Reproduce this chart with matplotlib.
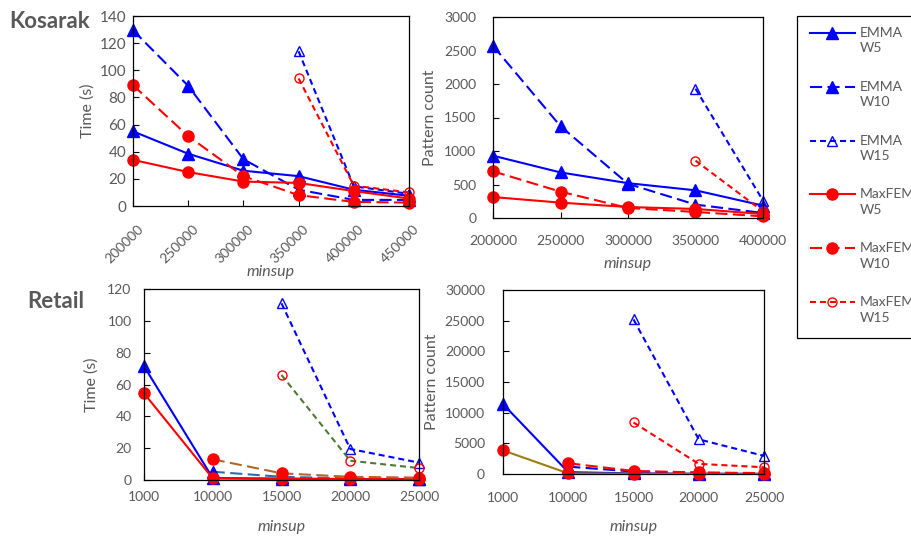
import numpy as np
import matplotlib
matplotlib.use("Agg")
import matplotlib.pyplot as plt
from matplotlib.lines import Line2D
from matplotlib.patches import Rectangle
from matplotlib.transforms import ScaledTranslation

plt.rcParams['font.family'] = ['Lato', 'DejaVu Sans']

nan = np.nan
# ---------------- data ----------------
kos_time_x = ["200000", "250000", "300000", "350000", "400000", "450000"]
kos_time_emma_w5 = [55, 38.5, 26, 22, 12, 7.5]
kos_time_emma_w10 = [129.5, 88.5, 34.5, 12, 4.5, 4.5]
kos_time_emma_w15 = [nan, nan, nan, 114, 14.5, 9]
kos_time_max_w5 = [34, 25, 18, 17, 11, 5.5]
kos_time_max_w10 = [89, 51.5, 22, 8, 3, 2.5]
kos_time_max_w15 = [nan, nan, nan, 94, 15, 10]

kos_cnt_x = ["200000", "250000", "300000", "350000", "400000"]
kos_cnt_emma_w5 = [930, 680, 520, 413, 185]
kos_cnt_emma_w10 = [2570, 1370, 510, 200, 75]
kos_cnt_emma_w15 = [nan, nan, nan, 1930, 260]
kos_cnt_max_w5 = [313, 229, 164, 135, 60]
kos_cnt_max_w10 = [697, 393, 150, 90, 25]
kos_cnt_max_w15 = [nan, nan, nan, 856, 100]

ret_x = ["1000", "10000", "15000", "20000", "25000"]
ret_time_emma_w5 = [71.5, 1.2, 0.8, 0.6, 0.5]
ret_time_emma_w10 = [nan, 5.2, 2.0, 1.0, 0.8]
ret_time_emma_w15 = [nan, nan, 111, 19.5, 10.9]
ret_time_max_w5 = [54.5, 1.0, 0.8, 0.6, 0.5]
ret_time_max_w10 = [nan, 13, 4.2, 2.0, 1.5]
ret_time_max_w15 = [nan, nan, 66, 12.1, 7.5]

ret_cnt_emma_w5 = [11400, 300, 100, 50, 30]
ret_cnt_emma_w10 = [nan, 1200, 400, 200, 100]
ret_cnt_emma_w15 = [nan, nan, 25200, 5650, 2950]
ret_cnt_max_w5 = [3850, 100, 50, 30, 20]
ret_cnt_max_w10 = [nan, 1750, 500, 250, 150]
ret_cnt_max_w15 = [nan, nan, 8400, 1650, 1100]

legend_names = ["EMMA", "EMMA", "EMMA", "MaxFEM", "MaxFEM", "MaxFEM"]
legend_windows = ["W5", "W10", "W15", "W5", "W10", "W15"]

# ---------------- styles ----------------
BLUE = "#0000FF"
RED = "#FF0000"
GRAY = "#595959"
LW = 1.5
LONG = (0, (5.8, 2.6))
SHORT = (0, (2.9, 1.9))

W, H = 912, 538
fig = plt.figure(figsize=(W / 100, H / 100), dpi=100)


def rect(l, t, r, b):
    return [l / W, 1 - b / H, (r - l) / W, (b - t) / H]


def series_styles(colors=None):
    c = {"ew5": BLUE, "ew10": BLUE, "ew15": BLUE, "mw5": RED, "mw10": RED, "mw15": RED}
    if colors:
        c.update(colors)
    return [
        dict(color=c["ew5"], ls="-", marker="^", ms=8, mfc=BLUE, mec=BLUE),
        dict(color=c["ew10"], ls=LONG, marker="^", ms=8, mfc=BLUE, mec=BLUE),
        dict(color=c["ew15"], ls=SHORT, marker="^", ms=6.5, mfc="none", mec=BLUE, mew=1),
        dict(color=c["mw5"], ls="-", marker="o", ms=8, mfc=RED, mec=RED),
        dict(color=c["mw10"], ls=LONG, marker="o", ms=8, mfc=RED, mec=RED),
        dict(color=c["mw15"], ls=SHORT, marker="o", ms=6.5, mfc="none", mec=RED, mew=1),
    ]


def draw(r, xlabels, series, ymax, ystep, ylabel, ylabel_x, xlab_y, rot=False,
         ypad=4, xpad=4, colors=None, ysize=10, xsize=10):
    ax = fig.add_axes(rect(*r))
    x = np.arange(len(xlabels))
    for vals, st in zip(series, series_styles(colors)):
        ax.plot(x, vals, lw=LW, clip_on=False, **st)
    ax.set_xlim(0, len(xlabels) - 1)
    ax.set_ylim(0, ymax)
    ax.set_yticks(np.arange(0, ymax + ystep / 2, ystep))
    ax.set_xticks(x)
    ax.tick_params(axis="both", direction="in", length=4, width=0.8,
                   colors="black")
    ax.tick_params(axis="y", pad=ypad, labelsize=ysize, labelcolor=GRAY)
    if rot:
        ax.set_xticklabels([])
        off = ScaledTranslation(8 / 100, -21 / 100, fig.dpi_scale_trans)
        for i, lab in zip(x, xlabels):
            ax.text(i, 0, lab, transform=ax.get_xaxis_transform() + off,
                    rotation=45, rotation_mode="anchor", ha="right",
                    va="center", fontsize=xsize, color=GRAY)
    else:
        ax.set_xticklabels(xlabels)
        ax.tick_params(axis="x", pad=xpad, labelsize=xsize, labelcolor=GRAY)
    for s in ax.spines.values():
        s.set_linewidth(0.9)
        s.set_color("black")
    l, t, rr, b = r
    fig.text(ylabel_x / W, 1 - ((t + b) / 2) / H, ylabel, rotation=90,
             ha="center", va="center", fontsize=11.5, color=GRAY)
    fig.text(((l + rr) / 2) / W, 1 - xlab_y / H, "minsup", style="italic",
             ha="center", va="center", fontsize=11.5, color=GRAY)
    return ax


draw((133, 16, 409, 206), kos_time_x,
     [kos_time_emma_w5, kos_time_emma_w10, kos_time_emma_w15,
      kos_time_max_w5, kos_time_max_w10, kos_time_max_w15],
     140, 20, "Time (s)", 88, 272, rot=True, ypad=5, ysize=11, xsize=10)

draw((493, 17, 763, 218), kos_cnt_x,
     [kos_cnt_emma_w5, kos_cnt_emma_w10, kos_cnt_emma_w15,
      kos_cnt_max_w5, kos_cnt_max_w10, kos_cnt_max_w15],
     3000, 500, "Pattern count", 430, 264, ypad=12, xpad=12)

draw((144, 289, 419, 480), ret_x,
     [ret_time_emma_w5, ret_time_emma_w10, ret_time_emma_w15,
      ret_time_max_w5, ret_time_max_w10, ret_time_max_w15],
     120, 20, "Time (s)", 92, 527, ypad=9, xpad=8,
     colors={"ew10": "#2F6DA8", "mw10": "#B5652B", "mw15": "#4E7A33"})

draw((503, 290, 764, 474), ret_x,
     [ret_cnt_emma_w5, ret_cnt_emma_w10, ret_cnt_emma_w15,
      ret_cnt_max_w5, ret_cnt_max_w10, ret_cnt_max_w15],
     30000, 5000, "Pattern count", 432, 527, ypad=13, xpad=13,
     colors={"mw5": "#9C7C10"})

fig.text(9 / W, 1 - 21 / H, "Kosarak", fontsize=16, fontweight="bold",
         color=GRAY, ha="left", va="center")
fig.text(27 / W, 1 - 302 / H, "Retail", fontsize=16, fontweight="bold",
         color=GRAY, ha="left", va="center")

# ---------------- legend (drawn in figure pixels) ----------------
def fx(px):
    return px / W


def fy(py):
    return 1 - py / H


fig.add_artist(Rectangle((fx(797), fy(338)), fx(930) - fx(797), fy(16) - fy(338),
                         transform=fig.transFigure, facecolor="white",
                         edgecolor="black", lw=0.9))
for i, (st, name, win) in enumerate(zip(series_styles(), legend_names, legend_windows)):
    y = 33 + 53.8 * i
    line_st = {k: v for k, v in st.items() if k not in ("marker", "ms", "mfc", "mec", "mew")}
    fig.add_artist(Line2D([fx(810), fx(855)], [fy(y), fy(y)], lw=LW,
                          transform=fig.transFigure, **line_st))
    mk = {k: v for k, v in st.items() if k in ("marker", "ms", "mfc", "mec", "mew")}
    fig.add_artist(Line2D([fx(832.5)], [fy(y)], ls="none",
                          transform=fig.transFigure, **mk))
    fig.text(fx(860), fy(y), name, fontsize=10, color=GRAY, ha="left", va="center")
    fig.text(fx(860), fy(y + 15.5), win, fontsize=10, color=GRAY, ha="left", va="center")

fig.savefig("out.png", dpi=100)
